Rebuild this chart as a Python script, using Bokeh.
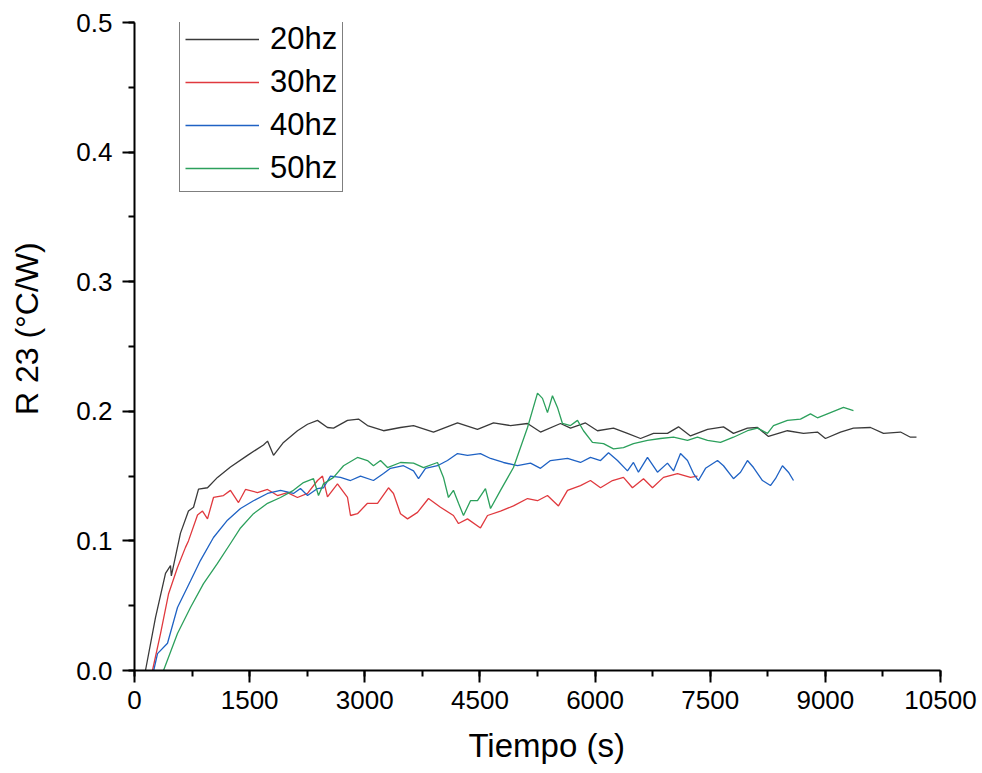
from bokeh.plotting import figure
from bokeh.models import (Range1d, SingleIntervalTicker, NumeralTickFormatter,
                          Legend, LegendItem)
from bokeh.embed import file_html
from bokeh.resources import INLINE

# ---------------- data ----------------
t20 = [143, 274, 404, 469, 480, 599, 703, 769, 834, 951, 1081, 1250, 1472, 1680, 1733,
       1811, 1941, 2123, 2254, 2384, 2514, 2593, 2775, 2918, 3035, 3244, 3465, 3635,
       3895, 4208, 4468, 4677, 4898, 5120, 5289, 5550, 5680, 5875, 6031, 6240, 6422,
       6592, 6761, 6943, 7087, 7243, 7465, 7673, 7803, 7985, 8116, 8259, 8506, 8715,
       8897, 9001, 9197, 9366, 9588, 9757, 9979, 10109, 10187]
r20 = [0.0, 0.041, 0.075, 0.081, 0.073, 0.106, 0.123, 0.126, 0.140, 0.141, 0.149,
       0.157, 0.166, 0.174, 0.177, 0.166, 0.176, 0.185, 0.190, 0.193, 0.1875, 0.187,
       0.193, 0.194, 0.189, 0.185, 0.1875, 0.189, 0.184, 0.191, 0.186, 0.191, 0.189,
       0.1906, 0.184, 0.1906, 0.187, 0.191, 0.185, 0.187, 0.183, 0.179, 0.183, 0.183,
       0.188, 0.181, 0.186, 0.188, 0.183, 0.187, 0.1875, 0.1806, 0.185, 0.183, 0.184,
       0.179, 0.184, 0.187, 0.1875, 0.183, 0.184, 0.180, 0.180]

t30 = [234, 339, 443, 560, 664, 703, 821, 886, 951, 1029, 1159, 1250, 1355, 1446, 1602,
       1733, 1863, 1993, 2123, 2254, 2384, 2449, 2514, 2644, 2775, 2814, 2905, 3035,
       3166, 3309, 3374, 3465, 3557, 3687, 3830, 3986, 4155, 4221, 4338, 4507, 4599,
       4768, 4937, 5120, 5250, 5380, 5523, 5641, 5810, 5940, 6071, 6227, 6370, 6487,
       6631, 6748, 6891, 7074, 7243, 7334]
r30 = [0.0, 0.0285, 0.059, 0.0795, 0.095, 0.100, 0.120, 0.123, 0.117, 0.1335, 0.135,
       0.139, 0.1296, 0.1397, 0.1373, 0.1397, 0.135, 0.1373, 0.1335, 0.1366, 0.1466,
       0.150, 0.134, 0.144, 0.1335, 0.1196, 0.121, 0.129, 0.129, 0.141, 0.1366, 0.121,
       0.117, 0.122, 0.1327, 0.126, 0.1196, 0.1134, 0.117, 0.110, 0.1196, 0.123, 0.127,
       0.1327, 0.131, 0.135, 0.127, 0.139, 0.1427, 0.1466, 0.141, 0.1466, 0.149, 0.141,
       0.148, 0.141, 0.149, 0.152, 0.149, 0.150]

t40 = [250, 300, 430, 560, 729, 860, 1029, 1211, 1381, 1550, 1733, 1902, 2071, 2162,
       2254, 2384, 2462, 2553, 2684, 2814, 2944, 3113, 3244, 3335, 3504, 3635, 3700,
       3791, 3947, 4077, 4208, 4338, 4507, 4638, 4807, 4989, 5159, 5289, 5419, 5641,
       5810, 5940, 6071, 6175, 6292, 6422, 6500, 6565, 6683, 6813, 6943, 7022, 7113,
       7204, 7282, 7347, 7439, 7595, 7673, 7803, 7895, 7985, 8064, 8181, 8285, 8350,
       8441, 8519, 8585]
r40 = [0.0, 0.013, 0.021, 0.0486, 0.069, 0.085, 0.1026, 0.116, 0.125, 0.131, 0.1366,
       0.139, 0.1366, 0.1404, 0.135, 0.1404, 0.141, 0.150, 0.149, 0.1466, 0.150, 0.1466,
       0.152, 0.156, 0.158, 0.154, 0.148, 0.156, 0.158, 0.162, 0.1674, 0.166, 0.1674,
       0.1636, 0.1605, 0.158, 0.160, 0.156, 0.162, 0.1636, 0.1605, 0.1644, 0.162, 0.168,
       0.162, 0.154, 0.1605, 0.153, 0.1644, 0.153, 0.160, 0.154, 0.1674, 0.162, 0.152,
       0.1466, 0.156, 0.162, 0.158, 0.148, 0.153, 0.162, 0.1566, 0.1466, 0.1427, 0.148,
       0.158, 0.153, 0.1466]

t50 = [378, 560, 729, 899, 1081, 1250, 1381, 1550, 1733, 1902, 2071, 2201, 2332, 2397,
       2462, 2593, 2723, 2905, 3035, 3113, 3205, 3296, 3465, 3635, 3765, 3947, 4025,
       4090, 4155, 4221, 4286, 4377, 4468, 4572, 4638, 4768, 4937, 5120, 5250, 5315,
       5380, 5445, 5510, 5575, 5680, 5771, 5849, 5966, 6110, 6240, 6370, 6500, 6683,
       6852, 7022, 7204, 7334, 7465, 7634, 7803, 7985, 8116, 8246, 8324, 8506, 8676,
       8806, 8897, 9067, 9236, 9366]
r50 = [0.0, 0.0285, 0.0486, 0.067, 0.0826, 0.098, 0.110, 0.121, 0.129, 0.1335, 0.139,
       0.145, 0.148, 0.135, 0.144, 0.149, 0.158, 0.1644, 0.162, 0.158, 0.162, 0.1566,
       0.1605, 0.160, 0.1566, 0.1605, 0.149, 0.1335, 0.139, 0.129, 0.1196, 0.131, 0.131,
       0.1404, 0.125, 0.139, 0.1566, 0.1875, 0.214, 0.210, 0.199, 0.212, 0.203, 0.1906,
       0.189, 0.193, 0.185, 0.176, 0.175, 0.171, 0.172, 0.175, 0.1775, 0.179, 0.180,
       0.1775, 0.180, 0.1775, 0.176, 0.180, 0.185, 0.187, 0.183, 0.189, 0.193, 0.194,
       0.198, 0.195, 0.199, 0.203, 0.2006]

series_names = ["20hz", "30hz", "40hz", "50hz"]
x_ticks_step = 1500
y_ticks_step = 0.1
x_title = "Tiempo (s)"
y_title = "R 23 (°C/W)"

# ---------------- figure ----------------
FONT = "Liberation Sans"
NB = "\u00a0"
p = figure(frame_width=806, frame_height=648,
           x_range=Range1d(0, 10500), y_range=Range1d(0, 0.5),
           output_backend="svg", toolbar_location=None,
           min_border_left=134, min_border_right=42,
           min_border_top=22, min_border_bottom=103)
p.outline_line_color = None
p.xgrid.visible = False
p.ygrid.visible = False
p.background_fill_color = "white"
p.border_fill_color = "white"

p.xaxis.ticker = SingleIntervalTicker(interval=x_ticks_step, num_minor_ticks=2)
p.yaxis.ticker = SingleIntervalTicker(interval=y_ticks_step, num_minor_ticks=2)
p.xaxis.formatter = NumeralTickFormatter(format="0")
p.yaxis.formatter = NumeralTickFormatter(format="0.0")

for ax in (p.xaxis[0], p.yaxis[0]):
    ax.axis_line_width = 2
    ax.axis_line_color = "black"
    ax.major_tick_line_width = 2
    ax.minor_tick_line_width = 2
    ax.major_tick_line_color = "black"
    ax.minor_tick_line_color = "black"
    ax.major_tick_in = 0
    ax.major_tick_out = 12
    ax.minor_tick_in = 0
    ax.minor_tick_out = 6
    ax.major_label_text_font = FONT
    ax.major_label_text_font_size = "26px"
    ax.major_label_text_color = "black"
    ax.axis_label_text_font = FONT
    ax.axis_label_text_font_style = "normal"
    ax.axis_label_text_color = "black"
p.xaxis.major_label_standoff = 8
p.yaxis.major_label_standoff = 10

p.xaxis.axis_label = NB * 2 + x_title
p.xaxis.axis_label_text_font_size = "33px"
p.xaxis.axis_label_standoff = 15
p.yaxis.axis_label = NB * 4 + y_title
p.yaxis.axis_label_text_font_size = "32px"
p.yaxis.axis_label_standoff = 28

colors = ["#3a3a3a", "#e0393e", "#1f62c4", "#2ca05c"]
data = [(t20, r20), (t30, r30), (t40, r40), (t50, r50)]
renderers = []
for (tx, ry), c in zip(data, colors):
    r = p.line(tx, ry, line_color=c, line_width=1.3)
    renderers.append(r)

legend = Legend(items=[LegendItem(label=n, renderers=[r]) for n, r in zip(series_names, renderers)],
                location=(45, 478))
legend.label_text_font = FONT
legend.label_text_font_size = "31px"
legend.label_text_color = "black"
legend.border_line_color = "black"
legend.border_line_width = 1.5
legend.background_fill_alpha = 1.0
legend.padding = 5
legend.spacing = 7
legend.margin = 0
legend.glyph_width = 74
legend.glyph_height = 20
legend.label_standoff = 11
p.add_layout(legend)

open("out.html", "w").write(file_html(p, INLINE))
